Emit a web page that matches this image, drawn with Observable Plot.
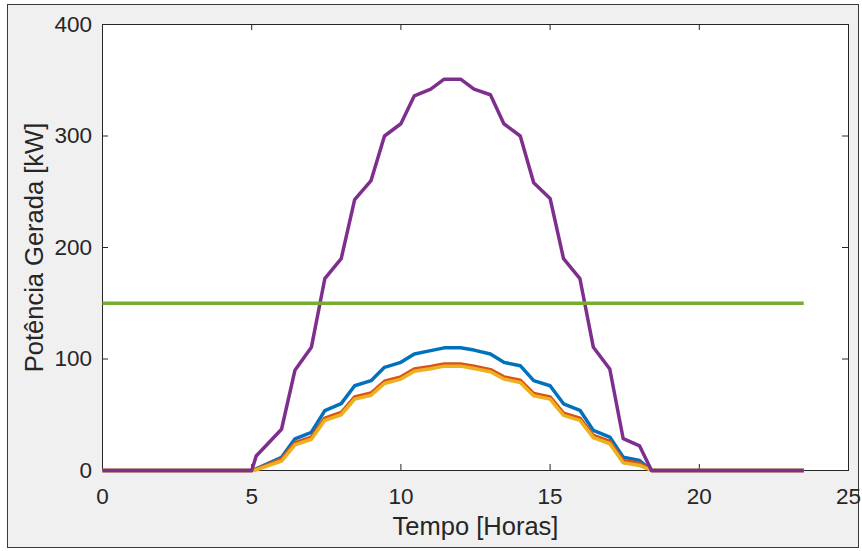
<!DOCTYPE html>
<html><head><meta charset="utf-8">
<script src="https://cdn.jsdelivr.net/npm/d3@7"></script>
<script src="https://cdn.jsdelivr.net/npm/@observablehq/plot@0.6"></script>
<style>
html,body{margin:0;padding:0;background:#fff;}
#wrap{position:relative;width:862px;height:551px;overflow:hidden;}
#panel{position:absolute;left:7px;top:4px;width:850px;height:542px;background:#f0f0f0;border:1.5px solid #3a3a3a;}
#chart{position:absolute;left:0;top:0;}
</style></head><body>
<div id="wrap"><div id="panel"></div><div id="chart"></div></div>
<script>
// Time (hours)
const hours = [0, 5.0, 5.15, 6.0, 6.45, 7.0, 7.45, 8.0, 8.45, 9.0, 9.45, 10.0, 10.45, 11.0, 11.45, 12.0, 12.45, 13.0, 13.45, 14.0, 14.45, 15.0, 15.45, 16.0, 16.45, 17.0, 17.45, 18.0, 18.4, 23.5];
// Generated power [kW] per series
const serieAzul    = [0, 0, 1.5, 11.9, 28.4, 34.3, 53.7, 60, 76, 80.6, 92.5, 97, 104.5, 107.5, 110, 110, 108, 104.5, 97, 94, 80.6, 76, 59.8, 54, 36, 30, 12, 9, 0, 0];
const serieVermelha= [0, 0, 1, 10.5, 25, 30, 47, 52, 66, 69.5, 80, 84, 91, 93.2, 95.6, 95.6, 93.5, 90.5, 84, 81, 69, 66, 51.5, 47, 31.5, 26, 9, 6.5, 0, 0];
const serieAmarela = [0, 0, 0.5, 8.5, 23, 28, 45, 50, 64, 67.5, 78, 82, 89, 91.2, 93.6, 93.6, 91.5, 88.5, 82, 79, 67, 64, 49.5, 45, 29.5, 24, 7, 4.5, 0, 0];
const serieRoxa    = [0, 0, 13, 37, 90, 110.5, 172, 190, 243, 260, 300, 311, 336, 342, 351, 351, 342, 337, 311, 300, 258, 244, 190, 172, 110.5, 91, 28.5, 22, 0, 0];
// Constant limit line
const limiteHours = [0, 23.5];
const limiteValues = [150, 150];

const seriesNames  = ["Azul", "Vermelha", "Amarela", "Roxa", "Limite"];
const seriesColors = ["#0072BD", "#D95319", "#EDB120", "#7E2F8E", "#77AC30"];

const xTicks = [0, 5, 10, 15, 20, 25];
const yTicks = [0, 100, 200, 300, 400];
const xLabel = "Tempo [Horas]";
const yLabel = "Potência Gerada [kW]";

const seriesValues = [serieAzul, serieVermelha, serieAmarela, serieRoxa];
const tables = seriesValues.map((vals, i) => hours.map((t, j) => ({t, p: vals[j], s: seriesNames[i]})));
tables.push(limiteHours.map((t, j) => ({t, p: limiteValues[j], s: seriesNames[4]})));

const W = 862, H = 551, ML = 102, MR = 14, MT = 24, MB = 81;
const innerW = W - ML - MR, innerH = H - MT - MB;
const tickLen = 6;
const font = "'Liberation Sans', Arial, Helvetica, sans-serif";

const chart = Plot.plot({
  width: W, height: H,
  marginLeft: ML, marginRight: MR, marginTop: MT, marginBottom: MB,
  x: {domain: [0, 25]},
  y: {domain: [0, 400]},
  color: {domain: seriesNames, range: seriesColors},
  style: {background: "transparent", fontFamily: font, color: "#262626", overflow: "visible"},
  marks: [
    Plot.frame({fill: "white", stroke: "#262626", strokeWidth: 1}),
    Plot.tickX(xTicks, {x: d => d, insetTop: innerH - tickLen, stroke: "#262626", strokeWidth: 1}),
    Plot.tickX(xTicks, {x: d => d, insetBottom: innerH - tickLen, stroke: "#262626", strokeWidth: 1}),
    Plot.tickY(yTicks, {y: d => d, insetRight: innerW - tickLen, stroke: "#262626", strokeWidth: 1}),
    Plot.tickY(yTicks, {y: d => d, insetLeft: innerW - tickLen, stroke: "#262626", strokeWidth: 1}),
    ...tables.map(tb => Plot.line(tb, {x: "t", y: "p", stroke: "s", strokeWidth: 3.5, strokeLinejoin: "round", strokeLinecap: "butt"})),
    Plot.axisX({ticks: xTicks, tickSize: 0, tickPadding: 17.5, fontSize: 22.5, label: null, fill: "#262626"}),
    Plot.axisY({ticks: yTicks, tickSize: 0, tickPadding: 10.5, fontSize: 22.5, label: null, fill: "#262626"}),
    Plot.text([xLabel], {frameAnchor: "bottom", dy: 64, text: d => d, fontSize: 25.5, fill: "#262626"}),
    Plot.text([yLabel], {frameAnchor: "left", textAnchor: "middle", dx: -68, rotate: -90, text: d => d, fontSize: 25.5, fill: "#262626"})
  ]
});
document.getElementById("chart").appendChild(chart);
</script>
</body></html>
